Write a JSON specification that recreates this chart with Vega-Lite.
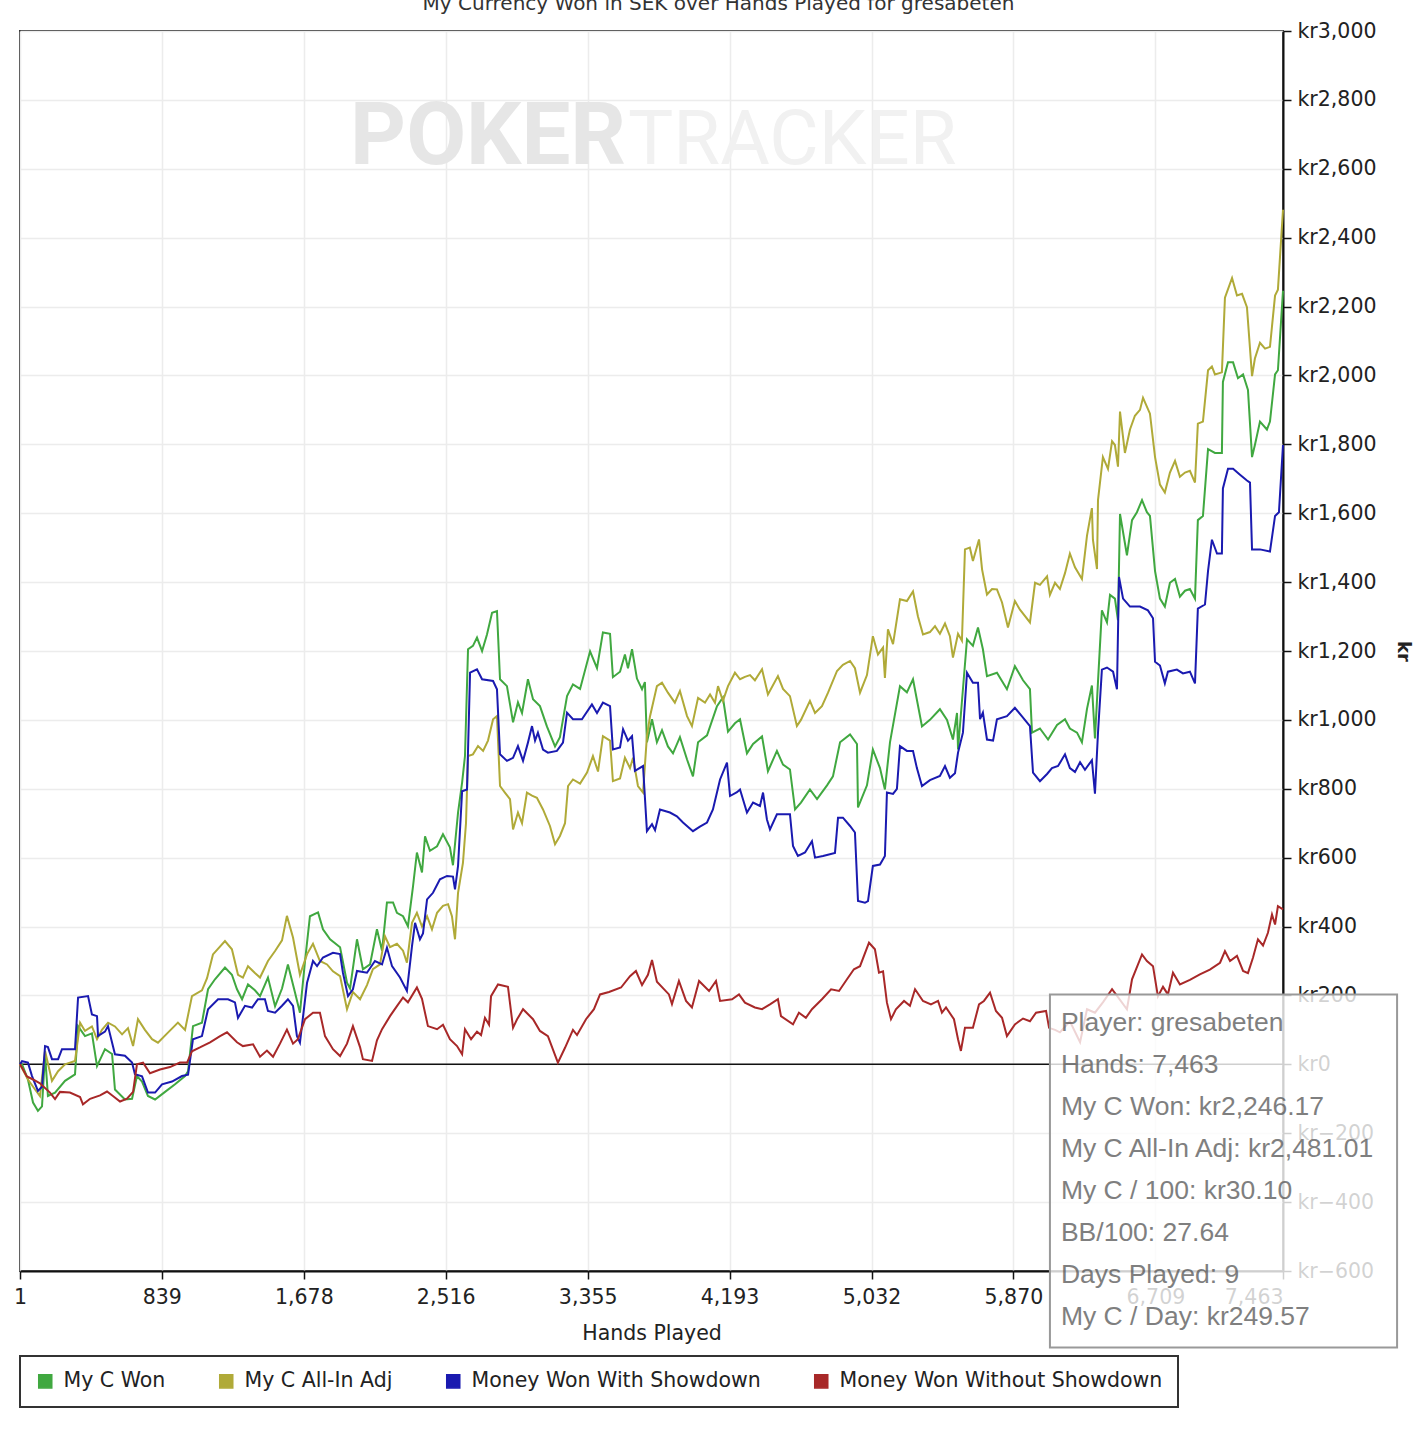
{
  "$schema": "https://vega.github.io/schema/vega-lite/v6.json",
  "width": 1263,
  "height": 1240,
  "autosize": {"type": "none"},
  "padding": {"left": 20, "top": 31, "right": 133, "bottom": 159},
  "background": "white",
  "title": {
    "text": "My Currency Won in SEK over Hands Played for    gresabeten",
    "font": "DejaVu Sans", "fontSize": 20, "fontWeight": "normal", "color": "#333",
    "anchor": "middle", "frame": "group", "dx": 67, "offset": 7
  },
  "config": {
    "view": {"stroke": "#333", "strokeWidth": 2},
    "font": "DejaVu Sans",
    "axis": {"gridColor": "#ececec", "gridWidth": 1.5, "domainColor": "#111", "domainWidth": 2, "tickColor": "#111", "tickWidth": 1.5, "tickSize": 8, "labelFont": "DejaVu Sans", "labelFontSize": 20.5, "labelColor": "#222", "titleFont": "DejaVu Sans", "titleColor": "#222"}
  },
  "datasets": {
    "won": [
      {"h":1,"v":0},{"h":13,"v":0},{"h":48,"v":-44},{"h":78,"v":-111},{"h":107,"v":-135},{"h":131,"v":-122},{"h":149,"v":29},{"h":166,"v":-92},{"h":208,"v":-82},{"h":267,"v":-48},{"h":326,"v":-29},{"h":344,"v":111},{"h":385,"v":82},{"h":426,"v":90},{"h":456,"v":-5},{"h":503,"v":44},{"h":545,"v":30},{"h":562,"v":-73},{"h":621,"v":-102},{"h":663,"v":-100},{"h":692,"v":-34},{"h":722,"v":-50},{"h":757,"v":-92},{"h":799,"v":-102},{"h":858,"v":-80},{"h":917,"v":-58},{"h":976,"v":-34},{"h":994,"v":-20},{"h":1023,"v":111},{"h":1076,"v":121},{"h":1112,"v":218},{"h":1153,"v":247},{"h":1212,"v":281},{"h":1253,"v":260},{"h":1283,"v":218},{"h":1313,"v":189},{"h":1348,"v":232},{"h":1389,"v":215},{"h":1419,"v":198},{"h":1466,"v":252},{"h":1508,"v":169},{"h":1549,"v":220},{"h":1584,"v":290},{"h":1626,"v":208},{"h":1655,"v":150},{"h":1685,"v":300},{"h":1714,"v":430},{"h":1762,"v":441},{"h":1791,"v":392},{"h":1833,"v":363},{"h":1892,"v":340},{"h":1933,"v":237},{"h":1951,"v":220},{"h":1992,"v":363},{"h":2027,"v":276},{"h":2069,"v":290},{"h":2110,"v":392},{"h":2140,"v":330},{"h":2169,"v":470},{"h":2205,"v":470},{"h":2228,"v":440},{"h":2264,"v":430},{"h":2293,"v":401},{"h":2323,"v":517},{"h":2346,"v":615},{"h":2376,"v":557},{"h":2394,"v":662},{"h":2423,"v":620},{"h":2465,"v":633},{"h":2500,"v":668},{"h":2541,"v":630},{"h":2559,"v":578},{"h":2589,"v":731},{"h":2613,"v":818},{"h":2630,"v":895},{"h":2648,"v":1205},{"h":2677,"v":1215},{"h":2701,"v":1239},{"h":2731,"v":1200},{"h":2760,"v":1248},{"h":2790,"v":1311},{"h":2819,"v":1316},{"h":2837,"v":1118},{"h":2878,"v":1098},{"h":2914,"v":993},{"h":2943,"v":1051},{"h":2967,"v":1020},{"h":3002,"v":1118},{"h":3032,"v":1060},{"h":3073,"v":1040},{"h":3114,"v":981},{"h":3162,"v":923},{"h":3191,"v":950},{"h":3233,"v":1069},{"h":3268,"v":1103},{"h":3310,"v":1090},{"h":3369,"v":1199},{"h":3410,"v":1150},{"h":3445,"v":1254},{"h":3487,"v":1250},{"h":3504,"v":1124},{"h":3546,"v":1140},{"h":3575,"v":1190},{"h":3593,"v":1150},{"h":3617,"v":1205},{"h":3646,"v":1120},{"h":3676,"v":1089},{"h":3693,"v":1110},{"h":3705,"v":935},{"h":3735,"v":1002},{"h":3764,"v":935},{"h":3794,"v":970},{"h":3829,"v":923},{"h":3859,"v":903},{"h":3900,"v":950},{"h":3942,"v":885},{"h":3977,"v":836},{"h":4007,"v":935},{"h":4060,"v":955},{"h":4119,"v":1040},{"h":4154,"v":1065},{"h":4184,"v":966},{"h":4225,"v":990},{"h":4255,"v":1002},{"h":4296,"v":903},{"h":4332,"v":930},{"h":4385,"v":952},{"h":4420,"v":851},{"h":4473,"v":910},{"h":4509,"v":870},{"h":4550,"v":856},{"h":4580,"v":740},{"h":4615,"v":760},{"h":4668,"v":798},{"h":4710,"v":770},{"h":4769,"v":810},{"h":4804,"v":836},{"h":4846,"v":935},{"h":4905,"v":958},{"h":4946,"v":930},{"h":4952,"v":746},{"h":5005,"v":810},{"h":5040,"v":914},{"h":5082,"v":860},{"h":5111,"v":798},{"h":5141,"v":935},{"h":5200,"v":1098},{"h":5241,"v":1080},{"h":5277,"v":1118},{"h":5330,"v":981},{"h":5377,"v":1000},{"h":5436,"v":1031},{"h":5478,"v":1000},{"h":5513,"v":943},{"h":5537,"v":1020},{"h":5543,"v":914},{"h":5596,"v":1234},{"h":5631,"v":1215},{"h":5661,"v":1268},{"h":5690,"v":1205},{"h":5714,"v":1127},{"h":5773,"v":1137},{"h":5832,"v":1089},{"h":5879,"v":1156},{"h":5927,"v":1115},{"h":5968,"v":1089},{"h":5980,"v":963},{"h":6027,"v":975},{"h":6075,"v":943},{"h":6128,"v":985},{"h":6175,"v":1002},{"h":6204,"v":975},{"h":6246,"v":963},{"h":6275,"v":935},{"h":6305,"v":1032},{"h":6334,"v":1100},{"h":6352,"v":946},{"h":6370,"v":1111},{"h":6393,"v":1318},{"h":6423,"v":1283},{"h":6441,"v":1363},{"h":6470,"v":1352},{"h":6488,"v":1289},{"h":6500,"v":1598},{"h":6541,"v":1478},{"h":6571,"v":1580},{"h":6600,"v":1603},{"h":6630,"v":1638},{"h":6659,"v":1603},{"h":6677,"v":1592},{"h":6707,"v":1432},{"h":6736,"v":1352},{"h":6765,"v":1329},{"h":6795,"v":1398},{"h":6825,"v":1409},{"h":6854,"v":1358},{"h":6884,"v":1375},{"h":6913,"v":1380},{"h":6943,"v":1352},{"h":6960,"v":1580},{"h":6990,"v":1592},{"h":7020,"v":1786},{"h":7061,"v":1775},{"h":7102,"v":1775},{"h":7108,"v":1981},{"h":7138,"v":2038},{"h":7168,"v":2038},{"h":7197,"v":1992},{"h":7227,"v":2003},{"h":7256,"v":1958},{"h":7280,"v":1763},{"h":7297,"v":1798},{"h":7327,"v":1866},{"h":7368,"v":1843},{"h":7386,"v":1866},{"h":7416,"v":2003},{"h":7433,"v":2015},{"h":7463,"v":2246}
    ],
    "adj": [
      {"h":1,"v":0},{"h":48,"v":-44},{"h":90,"v":-73},{"h":119,"v":-92},{"h":149,"v":39},{"h":190,"v":-48},{"h":226,"v":-20},{"h":267,"v":0},{"h":326,"v":10},{"h":356,"v":121},{"h":385,"v":97},{"h":426,"v":110},{"h":456,"v":73},{"h":485,"v":100},{"h":521,"v":121},{"h":562,"v":110},{"h":604,"v":87},{"h":639,"v":105},{"h":669,"v":53},{"h":698,"v":131},{"h":739,"v":100},{"h":781,"v":73},{"h":816,"v":63},{"h":875,"v":92},{"h":934,"v":121},{"h":976,"v":100},{"h":1017,"v":198},{"h":1076,"v":215},{"h":1106,"v":250},{"h":1141,"v":319},{"h":1212,"v":358},{"h":1253,"v":334},{"h":1289,"v":260},{"h":1318,"v":252},{"h":1348,"v":285},{"h":1389,"v":265},{"h":1419,"v":252},{"h":1466,"v":300},{"h":1508,"v":329},{"h":1549,"v":360},{"h":1578,"v":431},{"h":1614,"v":368},{"h":1655,"v":260},{"h":1697,"v":320},{"h":1732,"v":350},{"h":1773,"v":300},{"h":1815,"v":290},{"h":1850,"v":270},{"h":1892,"v":256},{"h":1933,"v":160},{"h":1968,"v":210},{"h":2010,"v":189},{"h":2051,"v":230},{"h":2086,"v":276},{"h":2128,"v":290},{"h":2157,"v":372},{"h":2187,"v":340},{"h":2228,"v":350},{"h":2264,"v":330},{"h":2287,"v":295},{"h":2317,"v":411},{"h":2346,"v":440},{"h":2376,"v":400},{"h":2406,"v":430},{"h":2435,"v":392},{"h":2465,"v":440},{"h":2500,"v":460},{"h":2530,"v":465},{"h":2553,"v":430},{"h":2571,"v":363},{"h":2589,"v":498},{"h":2618,"v":585},{"h":2636,"v":700},{"h":2648,"v":895},{"h":2677,"v":900},{"h":2707,"v":924},{"h":2737,"v":910},{"h":2766,"v":940},{"h":2796,"v":1002},{"h":2819,"v":1011},{"h":2837,"v":808},{"h":2866,"v":789},{"h":2896,"v":770},{"h":2914,"v":682},{"h":2943,"v":731},{"h":2967,"v":700},{"h":2996,"v":789},{"h":3026,"v":780},{"h":3055,"v":774},{"h":3091,"v":740},{"h":3132,"v":692},{"h":3162,"v":639},{"h":3191,"v":663},{"h":3221,"v":700},{"h":3239,"v":808},{"h":3268,"v":827},{"h":3310,"v":815},{"h":3351,"v":847},{"h":3386,"v":895},{"h":3416,"v":850},{"h":3445,"v":953},{"h":3487,"v":940},{"h":3504,"v":822},{"h":3546,"v":830},{"h":3575,"v":890},{"h":3605,"v":860},{"h":3623,"v":890},{"h":3652,"v":808},{"h":3682,"v":789},{"h":3705,"v":953},{"h":3723,"v":1010},{"h":3764,"v":1098},{"h":3794,"v":1108},{"h":3829,"v":1079},{"h":3870,"v":1050},{"h":3900,"v":1084},{"h":3942,"v":1011},{"h":3971,"v":982},{"h":4007,"v":1064},{"h":4048,"v":1050},{"h":4078,"v":1074},{"h":4107,"v":1050},{"h":4125,"v":1098},{"h":4154,"v":1055},{"h":4184,"v":1098},{"h":4225,"v":1137},{"h":4255,"v":1118},{"h":4284,"v":1125},{"h":4314,"v":1130},{"h":4343,"v":1115},{"h":4385,"v":1147},{"h":4420,"v":1074},{"h":4479,"v":1127},{"h":4509,"v":1090},{"h":4550,"v":1069},{"h":4591,"v":982},{"h":4615,"v":1000},{"h":4668,"v":1055},{"h":4698,"v":1020},{"h":4739,"v":1040},{"h":4775,"v":1079},{"h":4828,"v":1142},{"h":4863,"v":1160},{"h":4905,"v":1171},{"h":4934,"v":1150},{"h":4964,"v":1079},{"h":5005,"v":1130},{"h":5040,"v":1243},{"h":5070,"v":1190},{"h":5100,"v":1210},{"h":5111,"v":1122},{"h":5129,"v":1263},{"h":5159,"v":1220},{"h":5200,"v":1350},{"h":5241,"v":1345},{"h":5277,"v":1373},{"h":5306,"v":1301},{"h":5336,"v":1248},{"h":5377,"v":1255},{"h":5407,"v":1272},{"h":5436,"v":1250},{"h":5466,"v":1280},{"h":5495,"v":1243},{"h":5513,"v":1181},{"h":5543,"v":1250},{"h":5566,"v":1230},{"h":5584,"v":1495},{"h":5613,"v":1500},{"h":5631,"v":1461},{"h":5667,"v":1524},{"h":5685,"v":1437},{"h":5714,"v":1364},{"h":5744,"v":1380},{"h":5773,"v":1379},{"h":5803,"v":1341},{"h":5838,"v":1268},{"h":5879,"v":1345},{"h":5909,"v":1320},{"h":5968,"v":1283},{"h":5998,"v":1398},{"h":6027,"v":1392},{"h":6069,"v":1417},{"h":6086,"v":1363},{"h":6116,"v":1398},{"h":6145,"v":1380},{"h":6175,"v":1426},{"h":6204,"v":1483},{"h":6234,"v":1443},{"h":6275,"v":1409},{"h":6305,"v":1535},{"h":6334,"v":1615},{"h":6340,"v":1523},{"h":6364,"v":1438},{"h":6370,"v":1638},{"h":6399,"v":1763},{"h":6429,"v":1729},{"h":6453,"v":1809},{"h":6470,"v":1798},{"h":6488,"v":1735},{"h":6500,"v":1895},{"h":6529,"v":1775},{"h":6559,"v":1843},{"h":6588,"v":1883},{"h":6618,"v":1900},{"h":6636,"v":1935},{"h":6677,"v":1889},{"h":6707,"v":1763},{"h":6736,"v":1683},{"h":6765,"v":1660},{"h":6795,"v":1718},{"h":6825,"v":1752},{"h":6854,"v":1706},{"h":6884,"v":1718},{"h":6913,"v":1723},{"h":6943,"v":1689},{"h":6960,"v":1860},{"h":6990,"v":1866},{"h":7020,"v":2015},{"h":7043,"v":2026},{"h":7061,"v":2003},{"h":7102,"v":2009},{"h":7120,"v":2226},{"h":7162,"v":2283},{"h":7191,"v":2232},{"h":7221,"v":2237},{"h":7250,"v":2198},{"h":7280,"v":1998},{"h":7297,"v":2049},{"h":7327,"v":2095},{"h":7357,"v":2078},{"h":7386,"v":2083},{"h":7416,"v":2232},{"h":7433,"v":2249},{"h":7463,"v":2481}
    ],
    "sd": [
      {"h":1,"v":0},{"h":13,"v":9},{"h":48,"v":5},{"h":72,"v":-34},{"h":107,"v":-77},{"h":131,"v":-65},{"h":149,"v":53},{"h":166,"v":50},{"h":190,"v":15},{"h":226,"v":15},{"h":249,"v":44},{"h":326,"v":44},{"h":344,"v":194},{"h":403,"v":198},{"h":426,"v":145},{"h":456,"v":140},{"h":462,"v":82},{"h":503,"v":95},{"h":521,"v":111},{"h":562,"v":29},{"h":621,"v":25},{"h":663,"v":5},{"h":680,"v":-29},{"h":722,"v":-35},{"h":757,"v":-82},{"h":799,"v":-82},{"h":840,"v":-58},{"h":899,"v":-50},{"h":958,"v":-34},{"h":994,"v":-30},{"h":1023,"v":73},{"h":1076,"v":82},{"h":1112,"v":160},{"h":1171,"v":189},{"h":1230,"v":189},{"h":1271,"v":180},{"h":1289,"v":135},{"h":1330,"v":170},{"h":1372,"v":165},{"h":1407,"v":189},{"h":1448,"v":189},{"h":1466,"v":155},{"h":1508,"v":150},{"h":1549,"v":170},{"h":1584,"v":189},{"h":1614,"v":170},{"h":1637,"v":82},{"h":1655,"v":63},{"h":1697,"v":237},{"h":1732,"v":300},{"h":1756,"v":285},{"h":1791,"v":310},{"h":1850,"v":324},{"h":1892,"v":320},{"h":1909,"v":266},{"h":1939,"v":198},{"h":1968,"v":218},{"h":1992,"v":271},{"h":2051,"v":266},{"h":2098,"v":300},{"h":2140,"v":290},{"h":2169,"v":339},{"h":2199,"v":285},{"h":2246,"v":252},{"h":2287,"v":213},{"h":2317,"v":343},{"h":2335,"v":411},{"h":2364,"v":363},{"h":2382,"v":380},{"h":2406,"v":479},{"h":2441,"v":498},{"h":2482,"v":537},{"h":2524,"v":547},{"h":2559,"v":545},{"h":2571,"v":508},{"h":2589,"v":576},{"h":2613,"v":793},{"h":2642,"v":798},{"h":2660,"v":1137},{"h":2701,"v":1147},{"h":2731,"v":1118},{"h":2796,"v":1113},{"h":2819,"v":1089},{"h":2837,"v":900},{"h":2878,"v":881},{"h":2914,"v":890},{"h":2943,"v":924},{"h":2973,"v":881},{"h":3002,"v":934},{"h":3026,"v":982},{"h":3044,"v":940},{"h":3061,"v":963},{"h":3091,"v":914},{"h":3120,"v":905},{"h":3173,"v":910},{"h":3209,"v":934},{"h":3233,"v":1021},{"h":3268,"v":1002},{"h":3321,"v":1002},{"h":3380,"v":1045},{"h":3410,"v":1020},{"h":3445,"v":1050},{"h":3487,"v":1040},{"h":3504,"v":914},{"h":3546,"v":920},{"h":3564,"v":973},{"h":3593,"v":940},{"h":3617,"v":953},{"h":3634,"v":852},{"h":3682,"v":866},{"h":3705,"v":677},{"h":3735,"v":697},{"h":3753,"v":680},{"h":3782,"v":740},{"h":3841,"v":731},{"h":3882,"v":720},{"h":3918,"v":702},{"h":3977,"v":677},{"h":4018,"v":690},{"h":4060,"v":702},{"h":4095,"v":740},{"h":4137,"v":827},{"h":4178,"v":876},{"h":4196,"v":779},{"h":4237,"v":790},{"h":4255,"v":798},{"h":4296,"v":731},{"h":4332,"v":760},{"h":4373,"v":750},{"h":4391,"v":789},{"h":4414,"v":711},{"h":4432,"v":682},{"h":4473,"v":726},{"h":4550,"v":726},{"h":4568,"v":634},{"h":4597,"v":605},{"h":4639,"v":615},{"h":4680,"v":648},{"h":4698,"v":600},{"h":4745,"v":605},{"h":4816,"v":614},{"h":4834,"v":716},{"h":4863,"v":716},{"h":4905,"v":692},{"h":4934,"v":673},{"h":4952,"v":474},{"h":4993,"v":469},{"h":5011,"v":474},{"h":5040,"v":576},{"h":5082,"v":580},{"h":5111,"v":605},{"h":5123,"v":789},{"h":5159,"v":785},{"h":5182,"v":800},{"h":5200,"v":924},{"h":5241,"v":910},{"h":5277,"v":910},{"h":5300,"v":860},{"h":5330,"v":808},{"h":5377,"v":825},{"h":5436,"v":837},{"h":5466,"v":866},{"h":5495,"v":832},{"h":5525,"v":845},{"h":5543,"v":905},{"h":5572,"v":963},{"h":5596,"v":1137},{"h":5631,"v":1108},{"h":5661,"v":1108},{"h":5673,"v":1002},{"h":5690,"v":1021},{"h":5714,"v":943},{"h":5750,"v":940},{"h":5773,"v":1002},{"h":5832,"v":1011},{"h":5879,"v":1035},{"h":5921,"v":1010},{"h":5968,"v":982},{"h":5986,"v":847},{"h":6027,"v":822},{"h":6069,"v":843},{"h":6098,"v":860},{"h":6134,"v":866},{"h":6175,"v":900},{"h":6204,"v":860},{"h":6234,"v":849},{"h":6264,"v":877},{"h":6293,"v":855},{"h":6334,"v":883},{"h":6352,"v":786},{"h":6370,"v":963},{"h":6393,"v":1146},{"h":6423,"v":1152},{"h":6459,"v":1140},{"h":6482,"v":1089},{"h":6494,"v":1415},{"h":6518,"v":1352},{"h":6559,"v":1329},{"h":6618,"v":1329},{"h":6665,"v":1318},{"h":6695,"v":1295},{"h":6707,"v":1169},{"h":6736,"v":1158},{"h":6765,"v":1106},{"h":6783,"v":1140},{"h":6836,"v":1146},{"h":6872,"v":1135},{"h":6913,"v":1140},{"h":6943,"v":1106},{"h":6960,"v":1323},{"h":7002,"v":1335},{"h":7020,"v":1432},{"h":7043,"v":1523},{"h":7073,"v":1483},{"h":7102,"v":1483},{"h":7108,"v":1672},{"h":7138,"v":1729},{"h":7168,"v":1729},{"h":7209,"v":1712},{"h":7250,"v":1695},{"h":7268,"v":1689},{"h":7280,"v":1495},{"h":7327,"v":1495},{"h":7386,"v":1489},{"h":7416,"v":1592},{"h":7439,"v":1603},{"h":7463,"v":1798}
    ],
    "nsd": [
      {"h":1,"v":0},{"h":42,"v":-35},{"h":78,"v":-44},{"h":119,"v":-55},{"h":178,"v":-82},{"h":208,"v":-101},{"h":237,"v":-80},{"h":296,"v":-82},{"h":356,"v":-95},{"h":373,"v":-116},{"h":415,"v":-100},{"h":474,"v":-90},{"h":515,"v":-79},{"h":550,"v":-92},{"h":592,"v":-108},{"h":633,"v":-100},{"h":669,"v":-80},{"h":692,"v":0},{"h":728,"v":5},{"h":769,"v":-26},{"h":828,"v":-15},{"h":887,"v":-8},{"h":946,"v":5},{"h":988,"v":5},{"h":1017,"v":38},{"h":1064,"v":49},{"h":1124,"v":64},{"h":1183,"v":82},{"h":1224,"v":93},{"h":1283,"v":64},{"h":1318,"v":53},{"h":1378,"v":58},{"h":1419,"v":22},{"h":1460,"v":40},{"h":1496,"v":22},{"h":1537,"v":60},{"h":1578,"v":101},{"h":1614,"v":60},{"h":1643,"v":73},{"h":1685,"v":131},{"h":1732,"v":150},{"h":1773,"v":150},{"h":1803,"v":82},{"h":1850,"v":44},{"h":1892,"v":24},{"h":1933,"v":60},{"h":1968,"v":111},{"h":2010,"v":50},{"h":2027,"v":15},{"h":2081,"v":10},{"h":2110,"v":70},{"h":2140,"v":102},{"h":2187,"v":140},{"h":2228,"v":169},{"h":2264,"v":194},{"h":2293,"v":180},{"h":2346,"v":223},{"h":2376,"v":190},{"h":2411,"v":111},{"h":2465,"v":102},{"h":2500,"v":115},{"h":2541,"v":73},{"h":2583,"v":53},{"h":2613,"v":29},{"h":2630,"v":102},{"h":2666,"v":73},{"h":2701,"v":95},{"h":2725,"v":85},{"h":2748,"v":135},{"h":2772,"v":115},{"h":2784,"v":198},{"h":2825,"v":232},{"h":2884,"v":225},{"h":2914,"v":106},{"h":2937,"v":130},{"h":2973,"v":160},{"h":3032,"v":131},{"h":3073,"v":97},{"h":3120,"v":82},{"h":3179,"v":5},{"h":3221,"v":48},{"h":3268,"v":100},{"h":3292,"v":85},{"h":3345,"v":131},{"h":3392,"v":160},{"h":3428,"v":203},{"h":3481,"v":210},{"h":3552,"v":223},{"h":3605,"v":256},{"h":3640,"v":271},{"h":3676,"v":230},{"h":3711,"v":260},{"h":3735,"v":303},{"h":3764,"v":240},{"h":3835,"v":203},{"h":3853,"v":175},{"h":3894,"v":242},{"h":3936,"v":184},{"h":3971,"v":165},{"h":4013,"v":242},{"h":4072,"v":213},{"h":4113,"v":242},{"h":4137,"v":184},{"h":4208,"v":189},{"h":4249,"v":203},{"h":4284,"v":179},{"h":4343,"v":165},{"h":4385,"v":160},{"h":4432,"v":174},{"h":4479,"v":189},{"h":4497,"v":140},{"h":4568,"v":116},{"h":4603,"v":150},{"h":4644,"v":135},{"h":4680,"v":160},{"h":4739,"v":189},{"h":4793,"v":218},{"h":4840,"v":213},{"h":4887,"v":247},{"h":4928,"v":276},{"h":4964,"v":285},{"h":5017,"v":353},{"h":5052,"v":334},{"h":5076,"v":266},{"h":5100,"v":270},{"h":5123,"v":179},{"h":5147,"v":131},{"h":5176,"v":160},{"h":5224,"v":184},{"h":5259,"v":170},{"h":5289,"v":218},{"h":5336,"v":184},{"h":5383,"v":174},{"h":5425,"v":184},{"h":5448,"v":150},{"h":5472,"v":165},{"h":5519,"v":131},{"h":5543,"v":73},{"h":5560,"v":39},{"h":5584,"v":106},{"h":5631,"v":106},{"h":5667,"v":174},{"h":5696,"v":184},{"h":5732,"v":208},{"h":5767,"v":155},{"h":5803,"v":135},{"h":5832,"v":82},{"h":5879,"v":116},{"h":5927,"v":133},{"h":5968,"v":125},{"h":6004,"v":150},{"h":6063,"v":155},{"h":6081,"v":106},{"h":6116,"v":100},{"h":6145,"v":93},{"h":6204,"v":125},{"h":6264,"v":64},{"h":6305,"v":160},{"h":6352,"v":150},{"h":6399,"v":180},{"h":6453,"v":218},{"h":6488,"v":195},{"h":6541,"v":160},{"h":6571,"v":247},{"h":6630,"v":319},{"h":6659,"v":300},{"h":6695,"v":285},{"h":6724,"v":197},{"h":6754,"v":225},{"h":6783,"v":203},{"h":6813,"v":266},{"h":6854,"v":232},{"h":6913,"v":245},{"h":6972,"v":261},{"h":7031,"v":275},{"h":7091,"v":295},{"h":7120,"v":329},{"h":7150,"v":300},{"h":7191,"v":315},{"h":7227,"v":271},{"h":7256,"v":265},{"h":7286,"v":310},{"h":7315,"v":363},{"h":7345,"v":345},{"h":7374,"v":382},{"h":7398,"v":435},{"h":7416,"v":406},{"h":7433,"v":459},{"h":7463,"v":450}
    ]
  },
  "layer": [
    {
      "data": {"values": [{}]},
      "mark": {"type": "text", "text": "POKER", "font": "Roboto", "fontSize": 87, "fontWeight": "bold", "align": "left", "baseline": "alphabetic", "color": "#e6e6e6"},
      "encoding": {
        "x": {"datum": 1951, "type": "quantitative", "scale": {"domain": [1, 7463], "nice": false, "zero": false},
          "axis": {"orient": "bottom", "values": [1, 839, 1678, 2516, 3355, 4193, 5032, 5870, 6709, 7463], "format": ",d", "grid": true, "labelPadding": 8, "labelAlign": {"expr": "datum.value == 7463 ? 'right' : 'center'"}, "title": "Hands Played", "titleFontSize": 20.5, "titleFontWeight": "normal", "titlePadding": 16}},
        "y": {"datum": 2613, "type": "quantitative", "scale": {"domain": [-600, 3000], "nice": false, "zero": false},
          "axis": {"orient": "right", "values": [-600, -400, -200, 0, 200, 400, 600, 800, 1000, 1200, 1400, 1600, 1800, 2000, 2200, 2400, 2600, 2800, 3000], "labelExpr": "'kr' + format(datum.value, ',')", "grid": true, "labelPadding": 6, "title": "kr", "titleFontSize": 18, "titleFontWeight": "bold", "titlePadding": 18}}
      }
    },
    {
      "data": {"values": [{}]},
      "mark": {"type": "text", "text": "TRACKER", "font": "Roboto", "fontSize": 76, "fontWeight": "normal", "align": "left", "baseline": "alphabetic", "color": "#f1f1f1"},
      "encoding": {"x": {"datum": 3593, "type": "quantitative"}, "y": {"datum": 2613, "type": "quantitative"}}
    },
    {
      "data": {"values": [{}]},
      "mark": {"type": "rule", "color": "#111", "strokeWidth": 1.5},
      "encoding": {"y": {"datum": 0, "type": "quantitative"}}
    },
    {
      "data": {"name": "won"},
      "mark": {"type": "line", "strokeWidth": 2},
      "encoding": {
        "x": {"field": "h", "type": "quantitative"},
        "y": {"field": "v", "type": "quantitative"},
        "color": {"datum": "My C Won", "type": "nominal",
          "scale": {"domain": ["My C Won", "My C All-In Adj", "Money Won With Showdown", "Money Won Without Showdown"], "range": ["#40a840", "#b0aa38", "#1a1ab0", "#a82828"]},
          "legend": {"orient": "bottom", "direction": "horizontal", "title": null, "offset": 12, "padding": 15, "fillColor": "white", "strokeColor": "#333", "symbolType": "square", "symbolSize": 170, "symbolStrokeColor": "#333", "symbolStrokeWidth": 1.5, "labelFont": "DejaVu Sans", "labelFontSize": 20.5, "labelColor": "#222", "labelLimit": 600, "labelOffset": 8, "columnPadding": 50,
            "encode": {"symbols": {"update": {"fill": {"scale": "color", "field": "value"}, "fillOpacity": {"value": 1}, "stroke": {"value": "#333"}, "strokeOpacity": {"value": 1}, "strokeWidth": {"value": 1.5}}}, "legend": {"update": {"strokeWidth": {"value": 2}}}}}}
      }
    },
    {
      "data": {"name": "adj"},
      "mark": {"type": "line", "strokeWidth": 2},
      "encoding": {"x": {"field": "h", "type": "quantitative"}, "y": {"field": "v", "type": "quantitative"}, "color": {"datum": "My C All-In Adj", "type": "nominal"}}
    },
    {
      "data": {"name": "sd"},
      "mark": {"type": "line", "strokeWidth": 2},
      "encoding": {"x": {"field": "h", "type": "quantitative"}, "y": {"field": "v", "type": "quantitative"}, "color": {"datum": "Money Won With Showdown", "type": "nominal"}}
    },
    {
      "data": {"name": "nsd"},
      "mark": {"type": "line", "strokeWidth": 2},
      "encoding": {"x": {"field": "h", "type": "quantitative"}, "y": {"field": "v", "type": "quantitative"}, "color": {"datum": "Money Won Without Showdown", "type": "nominal"}}
    },
    {
      "data": {"values": [{}]},
      "mark": {"type": "rect", "fill": "white", "fillOpacity": 0.8, "stroke": "#999", "strokeWidth": 2},
      "encoding": {"x": {"datum": 6086, "type": "quantitative"}, "x2": {"datum": 8137}, "y": {"datum": 203, "type": "quantitative"}, "y2": {"datum": -822}}
    },
    {
      "data": {"values": [{}]},
      "mark": {"type": "text", "text": ["Player: gresabeten", "Hands: 7,463", "My C Won: kr2,246.17", "My C All-In Adj: kr2,481.01", "My C / 100: kr30.10", "BB/100: 27.64", "Days Played: 9", "My C / Day: kr249.57"], "font": "Liberation Sans", "fontSize": 26.5, "lineHeight": 42, "align": "left", "baseline": "alphabetic", "color": "#555", "opacity": 0.75},
      "encoding": {"x": {"datum": 6151, "type": "quantitative"}, "y": {"datum": 96, "type": "quantitative"}}
    }
  ]
}
